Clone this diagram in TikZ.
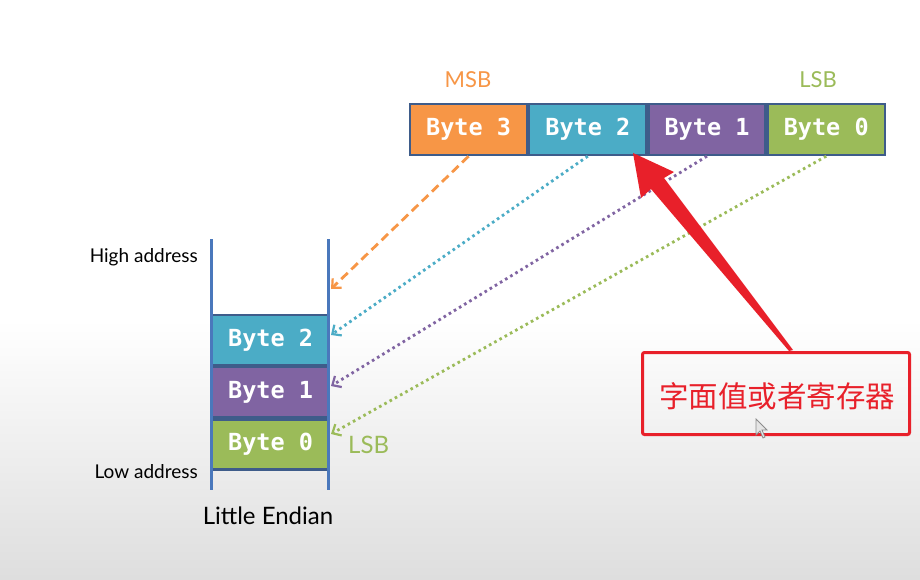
\documentclass[tikz,border=0pt]{standalone}
\usepackage{fontspec}
\setmainfont{Lato}
\setmonofont{DejaVu Sans Mono}
\newfontfamily\cjk{Noto Sans CJK SC}
\usetikzlibrary{arrows.meta}
\definecolor{cOrange}{HTML}{F79646}
\definecolor{cBlue}{HTML}{4BACC6}
\definecolor{cPurple}{HTML}{8064A2}
\definecolor{cGreen}{HTML}{9BBB59}
\definecolor{cBorder}{HTML}{3E5C8A}
\definecolor{cRail}{HTML}{4A78BC}
\definecolor{cRed}{HTML}{E8202A}
\tikzset{
  cell/.style={draw=cBorder, line width=2.2pt, minimum width=117pt, minimum height=51pt,
    inner sep=0pt, text=white, font=\ttfamily\bfseries\fontsize{23.5}{23.5}\selectfont},
  lbl/.style={font=\fontsize{19}{19}\selectfont, inner sep=0pt},
  dotarrow/.style={line width=2.8pt, dash pattern=on 2.6pt off 3.4pt, line cap=butt,
    -{Straight Barb[length=7pt,width=13pt,line width=2.2pt]}},
  dasharrow/.style={line width=2.8pt, dash pattern=on 9pt off 5pt,
    -{Straight Barb[length=7pt,width=13pt,line width=2.2pt]}}
}
\begin{document}
\begin{tikzpicture}[x=1pt,y=-1pt]
\useasboundingbox (0,0) rectangle (920,580);
\fill[white] (0,0) rectangle (920,320);
\shade[top color=white, bottom color=black!13] (0,320) rectangle (920,580);

% register row
\node[cell, fill=cOrange, anchor=north west] (r3) at (409,103) {Byte 3};
\node[cell, fill=cBlue, anchor=west] (r2) at (r3.east) {Byte 2};
\node[cell, fill=cPurple, anchor=west] (r1) at (r2.east) {Byte 1};
\node[cell, fill=cGreen, anchor=west] (r0) at (r1.east) {Byte 0};
\node[lbl, text=cOrange, font=\fontsize{22}{22}\selectfont] (msb) at (468,80) {MSB};
\node[lbl, text=cGreen, font=\fontsize{22}{22}\selectfont] (lsbtop) at (818,80) {LSB};

% memory column
\coordinate (railLtop) at (211,239);
\coordinate (railLbot) at (211,490);
\coordinate (railRtop) at (328,239);
\coordinate (railRbot) at (328,490);
\node[cell, fill=cBlue, minimum height=50pt, anchor=north west] (m2) at (211,314) {Byte 2};
\node[cell, fill=cPurple, minimum height=50pt, anchor=north] (m1) at (m2.south) {Byte 1};
\node[cell, fill=cGreen, minimum height=50pt, anchor=north] (m0) at (m1.south) {Byte 0};
\draw[cRail, line width=3pt] (railLtop) -- (railLbot);
\draw[cRail, line width=3pt] (railRtop) -- (railRbot);

\node[lbl, anchor=east] (high) at (198,257) {High address};
\node[lbl, anchor=east] (low) at (198,472) {Low address};
\node[lbl, font=\fontsize{24}{24}\selectfont] (title) at (268,516) {Little Endian};
\node[lbl, text=cGreen, font=\fontsize{24}{24}\selectfont, anchor=west] (lsbmem) at (348,445) {LSB};

% connectors
\coordinate (e3) at (331,289);
\coordinate (e2) at (331,335);
\coordinate (e1) at (331,386);
\coordinate (e0) at (331,434);
\draw[dasharrow, cOrange] (r3.south) -- (e3);
\draw[dotarrow, cBlue] (r2.south) -- (e2);
\draw[dotarrow, cPurple] (r1.south) -- (e1);
\draw[dotarrow, cGreen] (r0.south) -- (e0);

% red callout
\node[draw=cRed, line width=3pt, rounded corners=2pt, minimum width=267pt, minimum height=82pt,
  anchor=north west, inner sep=0pt] (callout) at (641,351) {};
\node[text=cRed, font=\cjk\fontsize{29.5}{29.5}\selectfont, anchor=west, inner sep=0pt] (ctext) at (659,396) {字面值或者寄存器};
\coordinate (tip) at (633,153);
\fill[cRed] (tip) -- (674,172) -- (664,178) -- (793,350) -- (789,351) -- (651,189) -- (641,198) -- cycle;

% cursor
\draw[black!45, line width=0.8pt, fill=white!90!black] (756,419) -- (756,435) -- (760,431) -- (763,438) -- (765,437) -- (762,430) -- (767,430) -- cycle;
\end{tikzpicture}
\end{document}
